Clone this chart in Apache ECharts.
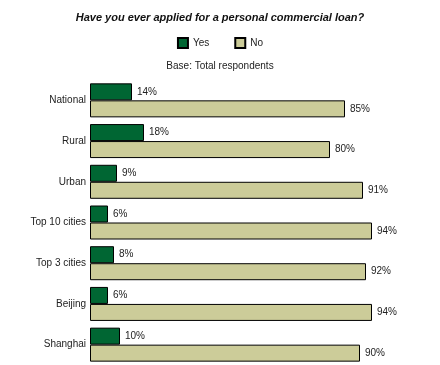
<!DOCTYPE html>
<html>
<head>
<meta charset="utf-8">
<script src="https://cdn.jsdelivr.net/npm/echarts@6/dist/echarts.min.js"></script>
<style>html,body{margin:0;padding:0;background:#fff;}#c{width:440px;height:365px;}</style>
</head>
<body>
<div id="c"></div>
<script>
var categories = ["National", "Rural", "Urban", "Top 10 cities", "Top 3 cities", "Beijing", "Shanghai"];
var yesValues = [14, 18, 9, 6, 8, 6, 10];
var noValues = [85, 80, 91, 94, 92, 94, 90];
var seriesNames = ["Yes", "No"];

var chart = echarts.init(document.getElementById('c'), null, {renderer: 'canvas'});
var fontFam = '"Liberation Sans", Arial, sans-serif';
var labelCfg = {
  show: true, position: 'right', distance: 5,
  formatter: function(p){ return p.value + '%'; },
  color: '#222', fontSize: 10, fontFamily: fontFam
};
chart.setOption({
  animation: false,
  backgroundColor: '#fff',
  title: [
    {text: 'Have you ever applied for a personal commercial loan?', left: 'center', top: 7,
     textStyle: {fontSize: 11, fontWeight: 'bold', fontStyle: 'italic', color: '#111', fontFamily: fontFam}},
    {text: 'Base: Total respondents', left: 'center', top: 56,
     textStyle: {fontSize: 10, fontWeight: 'normal', color: '#222', fontFamily: fontFam}}
  ],
  legend: {
    data: seriesNames, top: 32, left: 'center', itemWidth: 10, itemHeight: 10, itemGap: 25,
    icon: 'rect',
    textStyle: {fontSize: 10, color: '#222', fontFamily: fontFam}
  },
  grid: {left: 90, width: 300, top: 80, height: 285},
  xAxis: {type: 'value', min: 0, max: 100, show: false},
  yAxis: {
    type: 'category', data: categories, inverse: true,
    axisLine: {show: false}, axisTick: {show: false},
    axisLabel: {fontSize: 10, color: '#222', fontFamily: fontFam, margin: 4}
  },
  series: [
    {name: seriesNames[0], type: 'bar', data: yesValues, barWidth: 17, barGap: '0%',
     itemStyle: {color: '#006633', borderColor: '#000', borderWidth: 1}, label: labelCfg},
    {name: seriesNames[1], type: 'bar', data: noValues, barWidth: 17, barGap: '0%',
     itemStyle: {color: '#CCCC99', borderColor: '#000', borderWidth: 1}, label: labelCfg}
  ]
});
</script>
</body>
</html>
